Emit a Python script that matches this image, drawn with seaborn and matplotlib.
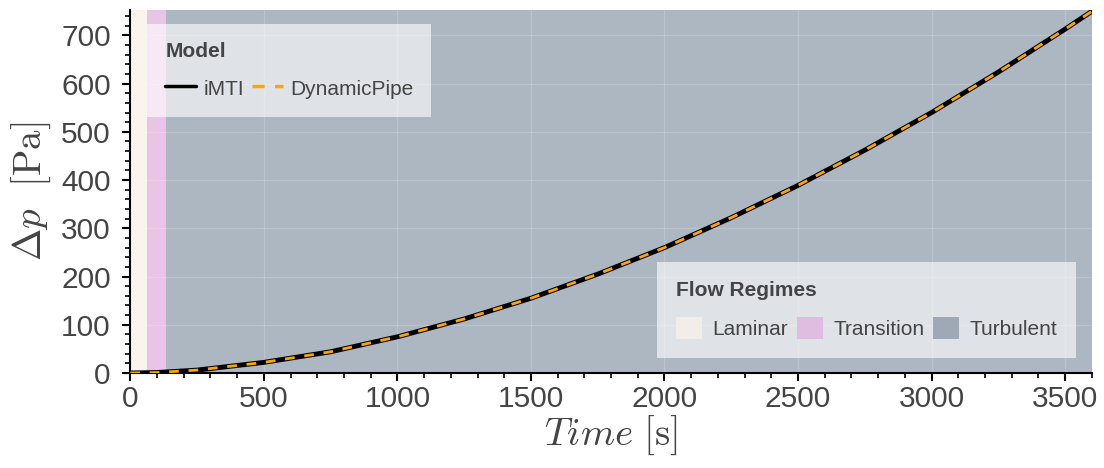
import numpy as np
import pandas as pd
import seaborn as sns
import matplotlib.pyplot as plt
from matplotlib.patches import Patch
from matplotlib.ticker import AutoMinorLocator, MultipleLocator

# pressure drop over time
time_s = [0, 100, 250, 500, 750, 1000, 1250, 1500, 1750, 2000, 2250, 2500,
          2750, 3000, 3250, 3500, 3600]
dp_imti = [0, 1, 6, 22, 44, 75, 112, 155, 205, 260, 322, 389,
           462, 540, 624, 713, 750]
dp_dynpipe = [0, 1, 6, 22, 44, 75, 112, 155, 205, 260, 322, 389,
              462, 540, 624, 713, 750]

# flow regime boundaries in s
regimes = ['Laminar', 'Transition', 'Turbulent']
regime_start = [0, 64, 135]
regime_end = [64, 135, 3600]
regime_colors = ['#f9f4ee', '#e8c4e7', '#adb7c1']
regime_patch_colors = ['#f1eee9', '#dfbde1', '#9fa9b5']

sns.set_theme(style='ticks')
plt.rcParams['font.family'] = ['Liberation Sans', 'DejaVu Sans']
plt.rcParams['mathtext.fontset'] = 'cm'

df = pd.DataFrame({
    'Time': time_s * 2,
    'dp': dp_imti + dp_dynpipe,
    'Model': ['iMTI'] * len(time_s) + ['DynamicPipe'] * len(time_s),
})

fig, ax = plt.subplots(figsize=(11.04, 4.68), dpi=100)

for s, e, c in zip(regime_start, regime_end, regime_colors):
    ax.axvspan(s, e, color=c, lw=0, zorder=0)

sns.lineplot(data=df, x='Time', y='dp', hue='Model', style='Model',
             palette={'iMTI': 'black', 'DynamicPipe': 'orange'},
             dashes={'iMTI': '', 'DynamicPipe': (3.5, 3.5)},
             linewidth=3, ax=ax, legend=False, zorder=3)
# orange dashes on top of a slightly thicker black line
ax.lines[0].set_linewidth(3.5)
ax.lines[1].set_linewidth(2.0)

ax.set_xlim(0, 3600)
ax.set_ylim(0, 752)
ax.grid(True, color='white', alpha=0.18, lw=0.9)
for ln in ax.get_xgridlines() + ax.get_ygridlines():
    ln.set_zorder(1)

ax.yaxis.set_major_locator(MultipleLocator(100))
ax.xaxis.set_minor_locator(AutoMinorLocator(5))
ax.yaxis.set_minor_locator(AutoMinorLocator(5))
ax.tick_params(axis='both', which='major', labelsize=21.5, length=5.5, width=1.5,
               color='black', labelcolor='#444444')
ax.tick_params(axis='y', which='major', pad=8.5)
ax.tick_params(axis='both', which='minor', length=3.5, width=1.2, color='black')
sns.despine(ax=ax, top=True, right=True)
for sp in ['left', 'bottom']:
    ax.spines[sp].set_linewidth(1.5)
    ax.spines[sp].set_color('black')

ax.set_xlabel(r'$Time\ [\mathrm{s}]$', fontsize=28, color='#444444', labelpad=0)
ax.set_ylabel(r'$\Delta p\ \ [\mathrm{Pa}]$', fontsize=28, color='#444444', labelpad=6)

model_handles = [
    plt.Line2D([], [], color='black', lw=2.5, label='iMTI'),
    plt.Line2D([], [], color='orange', lw=2.5, ls=(0, (3.5, 3)), label='DynamicPipe'),
]
leg1 = ax.legend(handles=model_handles, title='Model', loc='upper left',
                 bbox_to_anchor=(0.0177, 0.961), ncol=2, fontsize=15,
                 title_fontproperties={'weight': 'bold', 'size': 15},
                 frameon=True, fancybox=False, edgecolor='none',
                 facecolor='white', framealpha=0.62, handlelength=1.5,
                 handleheight=1.3, columnspacing=0.35, handletextpad=0.35,
                 borderpad=0.86, labelspacing=0.72, borderaxespad=0,
                 labelcolor='#444444')
leg1._legend_box.align = 'left'
leg1.get_title().set_color('#444444')
ax.add_artist(leg1)

regime_handles = [Patch(facecolor=c, edgecolor='none', label=r)
                  for r, c in zip(regimes, regime_patch_colors)]
leg2 = ax.legend(handles=regime_handles, title='Flow Regimes', loc='lower right',
                 bbox_to_anchor=(0.983, 0.041), ncol=3, fontsize=15,
                 title_fontproperties={'weight': 'bold', 'size': 15},
                 frameon=True, fancybox=False, edgecolor='none',
                 facecolor='white', framealpha=0.62, handlelength=1.25,
                 handleheight=1.25, columnspacing=0.4, handletextpad=0.5,
                 borderpad=0.9, labelspacing=0.85, borderaxespad=0,
                 labelcolor='#444444')
leg2._legend_box.align = 'left'
leg2.get_title().set_color('#444444')

fig.subplots_adjust(left=0.118, right=0.989, top=0.978, bottom=0.203)
fig.savefig('out.png', dpi=100)
